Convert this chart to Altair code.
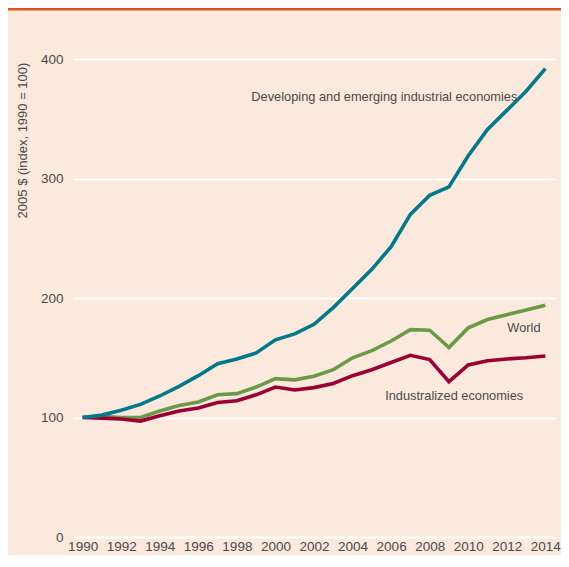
import altair as alt
import pandas as pd

years = list(range(1990, 2015))
developing = [100, 102, 106, 111, 118, 126, 135, 145, 149, 154, 165, 170, 178,
              192, 208, 224, 243, 270, 286, 293, 319, 341, 357, 373, 392]
world = [100, 101, 100, 100, 105.5, 110, 113, 119, 120, 125.5, 132.5, 131.5, 134.5,
         140, 150, 156, 164, 173.5, 173, 158.5, 175, 182, 186, 190, 194]
industrialized = [100, 99.5, 98.7, 97, 101.5, 105.5, 108, 112.5, 114, 119, 125.5, 123, 125,
                  128.5, 135, 140, 146, 152, 148.5, 130, 144, 147.5, 149, 150, 151.5]

series_names = ["World", "Industralized economies", "Developing and emerging industrial economies"]
series_colors = ["#6A9A46", "#9A0034", "#007A8A"]
y_ticks = [0, 100, 200, 300, 400]
x_ticks = list(range(1990, 2015, 2))

label_text = ["Developing and emerging industrial economies", "World", "Industralized economies"]
label_year = [1998.75, 2013.75, 2012.85]
label_value = [368, 175, 118]
label_align = ["left", "right", "right"]

rows = []
for name, vals in zip(series_names, [world, industrialized, developing]):
    for yr, v in zip(years, vals):
        rows.append({"year": yr, "value": v, "series": name})
df = pd.DataFrame(rows)

lab = pd.DataFrame({"text": label_text, "year": label_year, "value": label_value, "align": label_align})

BG = "#FCE9DD"
TXT = "#4a4a4a"
FONT = "Liberation Sans"

xscale = alt.Scale(domain=[1989.5, 2014.5], nice=False, zero=False)
yscale = alt.Scale(domain=[0, 400], nice=False)

xaxis = alt.Axis(values=x_ticks, format="d", title=None, grid=False, domain=False, ticks=False,
                 labelFont=FONT, labelFontSize=13.5, labelColor=TXT, labelPadding=2,
                 labelOverlap=False)
yaxis = alt.Axis(values=y_ticks, title="2005 $ (index, 1990 = 100)", grid=True, gridColor="white",
                 gridWidth=2, domain=False, ticks=False, labelFont=FONT, labelFontSize=13.5,
                 labelColor=TXT, labelPadding=10, titleFont=FONT, titleFontSize=13,
                 titleFontWeight="normal", titleColor=TXT, titleAngle=-90, titleX=-51, titleY=81,
                 titleAlign="center", titleBaseline="middle")

X = alt.X("year:Q", scale=xscale, axis=xaxis)
Y = alt.Y("value:Q", scale=yscale, axis=yaxis)

base = alt.Chart(df)
layers = []
for name, col in zip(series_names, series_colors):
    layers.append(
        base.transform_filter(alt.datum.series == name)
        .mark_line(color=col, strokeWidth=3.6, strokeJoin="miter")
        .encode(x=X, y=Y)
    )

texts = []
for al in ["left", "right"]:
    texts.append(
        alt.Chart(lab).transform_filter(alt.datum.align == al)
        .mark_text(align=al, baseline="middle", font=FONT, fontSize=12.8, color=TXT)
        .encode(x=X, y=Y, text="text:N")
    )

band = alt.Chart(lab).mark_rect(color="#DC5420").encode(
    x=alt.value(-70), x2=alt.value(500), y=alt.value(-55), y2=alt.value(-49)
)
band_line = alt.Chart(lab).mark_rect(color="#F0A07A").encode(
    x=alt.value(-70), x2=alt.value(500), y=alt.value(-49), y2=alt.value(-48)
)

chart = alt.layer(band, band_line, *layers, *texts).properties(
    width=482, height=478,
    autosize=alt.AutoSizeParams(type="none"),
    padding={"left": 65, "top": 51, "right": 6, "bottom": 18},
    background=BG,
).configure_view(stroke=None)

chart.save("out.html", embed_options={"renderer": "svg", "actions": False})
